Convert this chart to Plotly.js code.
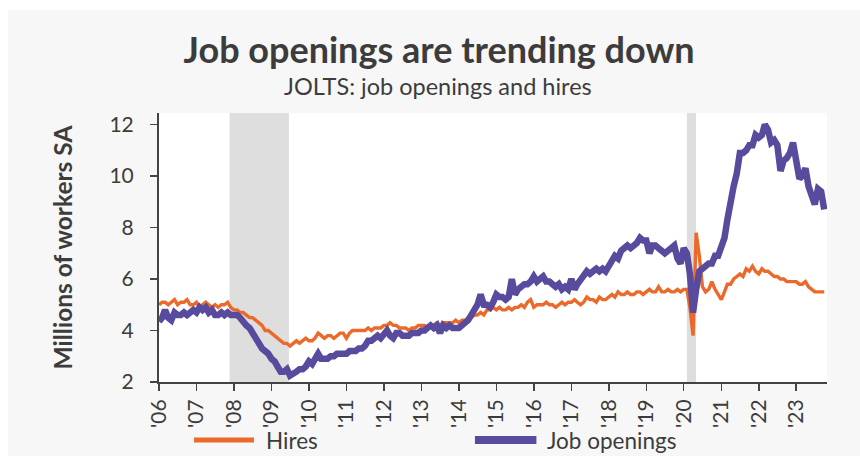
<!DOCTYPE html>
<html>
<head>
<meta charset="utf-8">
<script src="https://cdn.plot.ly/plotly-3.0.1.min.js"></script>
<style>
  html, body { margin: 0; padding: 0; background: #ffffff; }
  #chart { position: absolute; left: 8px; top: 10px; width: 852px; height: 446px; }
</style>
</head>
<body>
<div id="chart"></div>
<script>
// monthly JOLTS values, millions, Jan 2006 - Oct 2023
var startYear = 2006;

var hires = [
  5.0, 5.1, 5.1, 5.0, 5.1, 5.2, 5.0, 5.1, 5.1, 5.2, 5.0, 5.0,   // 2006
  5.1, 4.9, 5.0, 5.1, 5.0, 4.9, 5.0, 4.9, 5.0, 5.0, 5.1, 4.9,   // 2007
  4.8, 4.8, 4.7, 4.7, 4.6, 4.5, 4.5, 4.4, 4.3, 4.2, 4.0, 4.0,   // 2008
  3.9, 3.8, 3.7, 3.6, 3.5, 3.5, 3.4, 3.5, 3.6, 3.5, 3.6, 3.7,   // 2009
  3.6, 3.6, 3.7, 3.9, 3.8, 3.7, 3.8, 3.8, 3.7, 3.8, 3.9, 3.9,   // 2010
  3.7, 3.9, 4.0, 4.0, 4.0, 4.0, 4.0, 4.1, 4.0, 4.1, 4.1, 4.1,   // 2011
  4.2, 4.2, 4.3, 4.2, 4.2, 4.1, 4.1, 4.1, 4.0, 4.1, 4.1, 4.2,   // 2012
  4.2, 4.2, 4.1, 4.2, 4.2, 4.3, 4.2, 4.3, 4.3, 4.3, 4.3, 4.4,   // 2013
  4.3, 4.4, 4.4, 4.5, 4.5, 4.6, 4.6, 4.7, 4.6, 4.8, 4.8, 4.9,   // 2014
  4.8, 4.9, 4.8, 4.8, 4.9, 4.8, 4.9, 4.9, 5.0, 4.9, 5.1, 5.2,   // 2015
  4.9, 5.0, 5.0, 5.0, 5.1, 5.0, 5.0, 4.9, 5.0, 5.1, 5.0, 5.1,   // 2016
  5.1, 5.2, 5.1, 5.0, 5.1, 5.3, 5.2, 5.2, 5.1, 5.3, 5.2, 5.2,   // 2017
  5.3, 5.4, 5.3, 5.5, 5.4, 5.4, 5.5, 5.4, 5.4, 5.5, 5.5, 5.4,   // 2018
  5.5, 5.6, 5.5, 5.5, 5.7, 5.5, 5.5, 5.6, 5.5, 5.5, 5.6, 5.5,   // 2019
  5.6, 5.6, 4.9, 3.8, 7.8, 6.9, 5.7, 5.5, 5.6, 5.9, 5.6, 5.4,   // 2020
  5.2, 5.5, 5.8, 5.8, 6.0, 6.1, 6.2, 6.1, 6.4, 6.3, 6.5, 6.3,   // 2021
  6.2, 6.4, 6.3, 6.3, 6.2, 6.1, 6.1, 6.0, 6.0, 5.9, 5.9, 5.9,   // 2022
  5.9, 5.8, 5.8, 5.9, 5.7, 5.6, 5.5, 5.5, 5.5, 5.5              // 2023
];

var openings = [
  4.35, 4.5, 4.8, 4.5, 4.4, 4.7, 4.6, 4.6, 4.7, 4.6, 4.7, 4.8,  // 2006
  4.7, 4.9, 4.8, 4.9, 4.7, 4.8, 4.6, 4.6, 4.7, 4.6, 4.7, 4.6,   // 2007
  4.6, 4.6, 4.5, 4.3, 4.2, 4.1, 3.9, 3.6, 3.4, 3.3, 3.2, 3.1,   // 2008
  2.9, 2.8, 2.6, 2.4, 2.4, 2.5, 2.25, 2.3, 2.4, 2.5, 2.5, 2.6,  // 2009
  2.8, 2.7, 2.9, 3.1, 2.9, 2.9, 2.9, 3.0, 3.0, 3.1, 3.1, 3.1,   // 2010
  3.1, 3.2, 3.2, 3.2, 3.3, 3.3, 3.4, 3.6, 3.6, 3.7, 3.8, 3.7,   // 2011
  3.9, 4.0, 3.8, 3.7, 3.9, 3.9, 3.8, 3.8, 3.8, 3.9, 3.9, 3.9,   // 2012
  4.0, 4.0, 4.1, 4.2, 4.1, 4.2, 3.9, 4.2, 4.1, 4.2, 4.1, 4.1,   // 2013
  4.1, 4.2, 4.3, 4.4, 4.6, 4.8, 5.0, 5.4, 5.0, 5.0, 4.9, 5.1,   // 2014
  5.4, 5.3, 5.3, 5.2, 5.3, 6.0, 5.4, 5.6, 5.7, 5.8, 5.8, 5.9,   // 2015
  6.1, 5.9, 6.0, 6.1, 5.9, 5.9, 5.8, 5.7, 5.8, 5.6, 5.7, 5.6,   // 2016
  6.0, 5.6, 5.8, 6.0, 6.1, 6.3, 6.2, 6.3, 6.4, 6.3, 6.4, 6.3,   // 2017
  6.5, 6.7, 6.9, 6.8, 7.1, 7.2, 7.3, 7.2, 7.3, 7.4, 7.6, 7.5,   // 2018
  7.5, 7.0, 7.3, 7.3, 7.2, 7.1, 7.0, 7.1, 7.2, 7.3, 6.8, 6.6,   // 2019
  7.2, 7.0, 6.2, 4.7, 5.6, 6.3, 6.4, 6.5, 6.6, 6.6, 6.9, 6.9,   // 2020
  7.3, 7.6, 8.3, 9.1, 9.6, 10.1, 10.9, 10.9, 11.0, 11.2, 11.2, 11.6, // 2021
  11.5, 11.6, 12.0, 11.8, 11.3, 11.4, 11.2, 10.2, 10.6, 10.7, 10.9, 11.3, // 2022
  10.6, 9.9, 10.0, 10.3, 9.6, 9.2, 8.9, 9.5, 9.4, 8.7           // 2023
];

var recessions = [
  ['2007-11-20', '2009-06-20'],
  ['2020-02-01', '2020-04-30']
];

var months = hires.map(function (v, i) {
  var y = startYear + Math.floor(i / 12);
  var m = (i % 12) + 1;
  return y + '-' + (m < 10 ? '0' + m : m) + '-01';
});

var orange = '#eb6a2b';
var purple = '#584a9c';
var ink = '#3c3c3c';
var font = 'Lato, "Noto Sans", sans-serif';

var traces = [
  {
    x: months, y: hires, name: 'Hires', type: 'scatter', mode: 'lines',
    line: {color: orange, width: 3.4}
  },
  {
    x: months, y: openings, name: 'Job openings', type: 'scatter', mode: 'lines',
    line: {color: purple, width: 6.5}
  }
];

var shapes = recessions.map(function (r) {
  return {
    type: 'rect', xref: 'x', yref: 'paper', x0: r[0], x1: r[1], y0: 0, y1: 1,
    fillcolor: '#dedede', line: {width: 0}, layer: 'below'
  };
});

// hand-drawn legend below the axis
shapes.push({type: 'line', xref: 'paper', yref: 'paper', x0: 0.0524, x1: 0.1422, y0: -0.216, y1: -0.216,
  line: {color: orange, width: 5}});
shapes.push({type: 'line', xref: 'paper', yref: 'paper', x0: 0.473, x1: 0.565, y0: -0.216, y1: -0.216,
  line: {color: purple, width: 8}});

var layout = {
  width: 852,
  height: 446,
  paper_bgcolor: '#f7f7f7',
  plot_bgcolor: '#ffffff',
  margin: {l: 151, r: 33, t: 103, b: 74},
  showlegend: false,
  font: {family: font, color: ink},
  title: {
    text: '<b>Job openings are trending down</b>',
    xref: 'container', x: 0.506, xanchor: 'center',
    yref: 'container', y: 0.91, yanchor: 'middle',
    font: {family: font, size: 36, color: ink}
  },
  annotations: [
    {text: 'JOLTS: job openings and hires', xref: 'paper', yref: 'paper',
     x: 0.418, y: 1.10, xanchor: 'center', yanchor: 'middle', showarrow: false,
     font: {family: font, size: 23.5, color: ink}},
    {text: 'Hires', xref: 'paper', yref: 'paper', x: 0.157, y: -0.216,
     xanchor: 'left', yanchor: 'middle', showarrow: false,
     font: {family: font, size: 22.5, color: ink}},
    {text: 'Job openings', xref: 'paper', yref: 'paper', x: 0.578, y: -0.216,
     xanchor: 'left', yanchor: 'middle', showarrow: false,
     font: {family: font, size: 22.5, color: ink}}
  ],
  xaxis: {
    type: 'date',
    range: ['2006-01-01', '2023-10-28'],
    tick0: '2006-01-01', dtick: 'M12',
    tickformat: "'%y",
    tickangle: -90,
    ticks: 'outside', ticklen: 7, tickwidth: 1.5, tickcolor: '#444',
    showline: true, linecolor: '#444', linewidth: 2,
    showgrid: false, zeroline: false,
    tickfont: {family: font, size: 21, color: ink}
  },
  yaxis: {
    range: [2, 12.45],
    tickvals: [2, 4, 6, 8, 10, 12],
    ticks: 'outside', ticklen: 7, tickwidth: 1.5, tickcolor: '#444',
    ticklabelstandoff: 12,
    showline: true, linecolor: '#444', linewidth: 2,
    showgrid: false, zeroline: false,
    tickfont: {family: font, size: 21, color: ink},
    title: {text: '<b>Millions of workers SA</b>', standoff: 30,
            font: {family: font, size: 24.5, color: ink}}
  },
  shapes: shapes
};

Plotly.newPlot('chart', traces, layout, {displayModeBar: false, staticPlot: true});
</script>
</body>
</html>
